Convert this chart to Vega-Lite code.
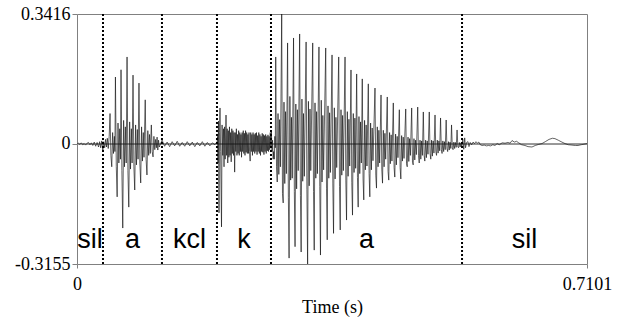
{
  "$schema": "https://vega.github.io/schema/vega-lite/v6.json",
  "width": 510,
  "height": 250,
  "autosize": {"type": "none"},
  "padding": {"left": 77, "top": 14, "right": 35, "bottom": 58},
  "background": "white",
  "config": {
    "view": {"stroke": "#808080", "strokeWidth": 1},
    "axis": {"labelFont": "Liberation Serif", "titleFont": "Liberation Serif", "labelFontSize": 18, "titleFontSize": 18, "labelColor": "#000", "titleColor": "#000", "titleFontWeight": "normal", "domain": false, "grid": false, "tickColor": "#808080", "labelFlush": false, "labelOverlap": false}
  },
  "datasets": {
    "wave": [
      {"t":0.0000,"v":0.000},{"t":0.0020,"v":0.002},{"t":0.0040,"v":-0.001},{"t":0.0060,"v":0.003},{"t":0.0080,"v":-0.002},{"t":0.0100,"v":0.001},{"t":0.0120,"v":-0.003},{"t":0.0140,"v":0.002},{"t":0.0160,"v":0.004},{"t":0.0180,"v":-0.002},{"t":0.0200,"v":0.003},{"t":0.0220,"v":-0.004},{"t":0.0240,"v":0.005},{"t":0.0260,"v":-0.006},{"t":0.0280,"v":0.004},{"t":0.0300,"v":-0.008},{"t":0.0315,"v":0.006},{"t":0.0330,"v":-0.010},{"t":0.0345,"v":0.008},{"t":0.0360,"v":-0.018},{"t":0.0372,"v":0.006},{"t":0.0385,"v":-0.010},{"t":0.0398,"v":0.012},{"t":0.0410,"v":-0.008},{"t":0.0422,"v":0.015},{"t":0.0435,"v":-0.012},{"t":0.0448,"v":0.020},
      {"t":0.0460,"v":0.080},{"t":0.0472,"v":-0.030},{"t":0.0484,"v":-0.060},{"t":0.0496,"v":0.030},{"t":0.0508,"v":-0.025},{"t":0.0520,"v":0.020},{"t":0.0528,"v":-0.020},
      {"t":0.0535,"v":0.176},{"t":0.0547,"v":-0.060},{"t":0.0559,"v":-0.139},{"t":0.0571,"v":0.055},{"t":0.0583,"v":-0.050},{"t":0.0595,"v":0.040},{"t":0.0605,"v":-0.040},
      {"t":0.0613,"v":0.195},{"t":0.0625,"v":-0.070},{"t":0.0637,"v":-0.221},{"t":0.0649,"v":0.062},{"t":0.0661,"v":-0.060},{"t":0.0673,"v":0.045},{"t":0.0685,"v":-0.050},
      {"t":0.0697,"v":0.2287},{"t":0.0709,"v":-0.070},{"t":0.0721,"v":-0.166},{"t":0.0733,"v":0.058},{"t":0.0745,"v":-0.066},{"t":0.0757,"v":0.040},{"t":0.0767,"v":-0.050},
      {"t":0.0780,"v":0.181},{"t":0.0792,"v":-0.060},{"t":0.0804,"v":-0.121},{"t":0.0816,"v":0.050},{"t":0.0828,"v":-0.055},{"t":0.0840,"v":0.038},{"t":0.0850,"v":-0.040},
      {"t":0.0863,"v":0.160},{"t":0.0875,"v":-0.050},{"t":0.0887,"v":-0.1025},{"t":0.0899,"v":0.045},{"t":0.0911,"v":-0.045},{"t":0.0923,"v":0.030},{"t":0.0933,"v":-0.035},
      {"t":0.0950,"v":0.116},{"t":0.0962,"v":-0.040},{"t":0.0974,"v":-0.0815},{"t":0.0986,"v":0.035},{"t":0.0998,"v":-0.030},{"t":0.1010,"v":0.025},{"t":0.1020,"v":-0.025},
      {"t":0.1035,"v":0.050},{"t":0.1047,"v":-0.020},{"t":0.1059,"v":-0.034},{"t":0.1071,"v":0.020},{"t":0.1083,"v":-0.015},{"t":0.1095,"v":0.012},{"t":0.1105,"v":-0.010},
      {"t":0.1115,"v":0.018},{"t":0.1125,"v":-0.016},{"t":0.1135,"v":0.010},{"t":0.1145,"v":-0.008},
      {"t":0.1185,"v":0.010},{"t":0.1220,"v":-0.006},{"t":0.1255,"v":0.005},{"t":0.1290,"v":-0.007},{"t":0.1325,"v":0.006},{"t":0.1360,"v":-0.005},{"t":0.1395,"v":0.007},{"t":0.1430,"v":-0.006},{"t":0.1465,"v":0.004},{"t":0.1500,"v":-0.006},{"t":0.1535,"v":0.006},{"t":0.1570,"v":-0.005},{"t":0.1605,"v":0.005},{"t":0.1640,"v":-0.007},{"t":0.1675,"v":0.004},{"t":0.1710,"v":-0.005},{"t":0.1745,"v":0.006},{"t":0.1780,"v":-0.006},{"t":0.1815,"v":0.004},{"t":0.1850,"v":-0.005},{"t":0.1885,"v":0.003},{"t":0.1920,"v":-0.002},{"t":0.1940,"v":0.003},
      {"t":0.1950,"v":0.003},{"t":0.1958,"v":0.020},{"t":0.1963,"v":-0.050},{"t":0.1970,"v":0.060},{"t":0.1977,"v":-0.181},{"t":0.1984,"v":0.030},{"t":0.1991,"v":0.0946},{"t":0.2000,"v":-0.020},{"t":0.2012,"v":-0.218},{"t":0.2020,"v":0.050},{"t":0.2030,"v":-0.030},{"t":0.2040,"v":0.040},{"t":0.2047,"v":-0.060},{"t":0.2055,"v":0.045},{"t":0.2063,"v":-0.040},{"t":0.2075,"v":0.076},{"t":0.2083,"v":-0.030},{"t":0.2091,"v":0.040},{"t":0.2099,"v":-0.050},{"t":0.2107,"v":0.035},{"t":0.2115,"v":-0.035},{"t":0.2123,"v":0.045},{"t":0.2131,"v":-0.030},{"t":0.2139,"v":0.030},{"t":0.2147,"v":-0.047},{"t":0.2155,"v":0.040},{"t":0.2163,"v":-0.025},{"t":0.2171,"v":0.035},{"t":0.2179,"v":-0.030},{"t":0.2187,"v":0.030},{"t":0.2195,"v":-0.074},{"t":0.2203,"v":0.030},{"t":0.2211,"v":-0.020},{"t":0.2219,"v":0.040},{"t":0.2227,"v":-0.030},{"t":0.2235,"v":0.025},{"t":0.2243,"v":-0.025},{"t":0.2251,"v":0.035},{"t":0.2259,"v":-0.030},{"t":0.2267,"v":0.030},{"t":0.2275,"v":-0.020},{"t":0.2283,"v":0.025},{"t":0.2291,"v":-0.035},{"t":0.2299,"v":0.030},{"t":0.2307,"v":-0.020},{"t":0.2315,"v":0.035},{"t":0.2323,"v":-0.025},{"t":0.2331,"v":0.028},{"t":0.2339,"v":-0.030},{"t":0.2347,"v":0.035},{"t":0.2355,"v":-0.022},{"t":0.2363,"v":0.030},{"t":0.2371,"v":-0.025},{"t":0.2379,"v":0.025},{"t":0.2387,"v":-0.025},{"t":0.2395,"v":0.030},{"t":0.2403,"v":-0.020},{"t":0.2411,"v":-0.045},{"t":0.2419,"v":0.030},{"t":0.2427,"v":-0.020},{"t":0.2435,"v":0.025},{"t":0.2443,"v":-0.030},{"t":0.2451,"v":0.030},{"t":0.2459,"v":-0.020},{"t":0.2467,"v":0.025},{"t":0.2475,"v":-0.025},{"t":0.2483,"v":0.028},{"t":0.2491,"v":-0.020},{"t":0.2499,"v":0.030},{"t":0.2507,"v":-0.028},{"t":0.2515,"v":0.022},{"t":0.2523,"v":-0.020},{"t":0.2531,"v":0.030},{"t":0.2539,"v":-0.025},{"t":0.2547,"v":0.025},{"t":0.2555,"v":-0.030},{"t":0.2563,"v":0.020},{"t":0.2571,"v":-0.020},{"t":0.2579,"v":0.028},{"t":0.2587,"v":-0.022},{"t":0.2595,"v":0.025},{"t":0.2603,"v":-0.028},{"t":0.2611,"v":0.022},{"t":0.2619,"v":-0.020},{"t":0.2627,"v":0.025},{"t":0.2635,"v":-0.025},{"t":0.2643,"v":0.020},{"t":0.2651,"v":-0.018},{"t":0.2659,"v":0.024},{"t":0.2667,"v":-0.020},{"t":0.2675,"v":0.020},{"t":0.2683,"v":-0.015},{"t":0.2691,"v":0.030},{"t":0.2699,"v":-0.010},{"t":0.2707,"v":0.032},{"t":0.2715,"v":-0.020},{"t":0.2723,"v":0.010},{"t":0.2731,"v":-0.040},{"t":0.2739,"v":-0.020},{"t":0.2747,"v":-0.040},{"t":0.2755,"v":0.020},{"t":0.2761,"v":-0.010},
      {"t":0.2767,"v":0.2287},{"t":0.2778,"v":-0.060},{"t":0.2788,"v":-0.100},{"t":0.2799,"v":0.080},{"t":0.2810,"v":-0.080},{"t":0.2821,"v":0.064},{"t":0.2832,"v":-0.060},
      {"t":0.2850,"v":0.3416},{"t":0.2861,"v":-0.130},{"t":0.2871,"v":-0.155},{"t":0.2882,"v":0.110},{"t":0.2893,"v":-0.104},{"t":0.2904,"v":0.085},{"t":0.2915,"v":-0.078},
      {"t":0.2932,"v":0.2655},{"t":0.2943,"v":-0.140},{"t":0.2953,"v":-0.300},{"t":0.2964,"v":0.125},{"t":0.2975,"v":-0.095},{"t":0.2986,"v":0.070},{"t":0.2997,"v":-0.090},
      {"t":0.3015,"v":0.2786},{"t":0.3026,"v":-0.125},{"t":0.3036,"v":-0.270},{"t":0.3047,"v":0.105},{"t":0.3058,"v":-0.118},{"t":0.3069,"v":0.090},{"t":0.3080,"v":-0.070},
      {"t":0.3100,"v":0.2891},{"t":0.3111,"v":-0.135},{"t":0.3121,"v":-0.284},{"t":0.3132,"v":0.118},{"t":0.3143,"v":-0.098},{"t":0.3154,"v":0.080},{"t":0.3165,"v":-0.085},
      {"t":0.3190,"v":0.2681},{"t":0.3201,"v":-0.120},{"t":0.3211,"v":-0.3155},{"t":0.3222,"v":0.112},{"t":0.3233,"v":-0.110},{"t":0.3244,"v":0.092},{"t":0.3255,"v":-0.070},
      {"t":0.3282,"v":0.2655},{"t":0.3293,"v":-0.125},{"t":0.3303,"v":-0.279},{"t":0.3314,"v":0.108},{"t":0.3325,"v":-0.090},{"t":0.3336,"v":0.085},{"t":0.3347,"v":-0.078},
      {"t":0.3369,"v":0.2550},{"t":0.3380,"v":-0.112},{"t":0.3390,"v":-0.292},{"t":0.3401,"v":0.115},{"t":0.3412,"v":-0.100},{"t":0.3423,"v":0.075},{"t":0.3434,"v":-0.068},
      {"t":0.3463,"v":0.2523},{"t":0.3474,"v":-0.118},{"t":0.3484,"v":-0.252},{"t":0.3495,"v":0.100},{"t":0.3506,"v":-0.090},{"t":0.3517,"v":0.082},{"t":0.3528,"v":-0.075},
      {"t":0.3551,"v":0.2340},{"t":0.3562,"v":-0.105},{"t":0.3572,"v":-0.235},{"t":0.3583,"v":0.095},{"t":0.3594,"v":-0.092},{"t":0.3605,"v":0.070},{"t":0.3616,"v":-0.062},
      {"t":0.3644,"v":0.2287},{"t":0.3655,"v":-0.112},{"t":0.3665,"v":-0.226},{"t":0.3676,"v":0.090},{"t":0.3687,"v":-0.082},{"t":0.3698,"v":0.075},{"t":0.3709,"v":-0.070},
      {"t":0.3732,"v":0.2287},{"t":0.3743,"v":-0.095},{"t":0.3753,"v":-0.200},{"t":0.3764,"v":0.085},{"t":0.3775,"v":-0.085},{"t":0.3786,"v":0.065},{"t":0.3797,"v":-0.058},
      {"t":0.3815,"v":0.1945},{"t":0.3826,"v":-0.102},{"t":0.3836,"v":-0.187},{"t":0.3847,"v":0.080},{"t":0.3858,"v":-0.075},{"t":0.3869,"v":0.068},{"t":0.3880,"v":-0.064},
      {"t":0.3894,"v":0.1840},{"t":0.3905,"v":-0.088},{"t":0.3915,"v":-0.166},{"t":0.3926,"v":0.072},{"t":0.3937,"v":-0.078},{"t":0.3948,"v":0.058},{"t":0.3959,"v":-0.050},
      {"t":0.3972,"v":0.1710},{"t":0.3983,"v":-0.092},{"t":0.3993,"v":-0.147},{"t":0.4004,"v":0.062},{"t":0.4015,"v":-0.068},{"t":0.4026,"v":0.050},{"t":0.4037,"v":-0.058},
      {"t":0.4056,"v":0.1580},{"t":0.4067,"v":-0.078},{"t":0.4077,"v":-0.139},{"t":0.4088,"v":0.055},{"t":0.4099,"v":-0.068},{"t":0.4110,"v":0.042},{"t":0.4121,"v":-0.044},
      {"t":0.4149,"v":0.1470},{"t":0.4160,"v":-0.082},{"t":0.4170,"v":-0.116},{"t":0.4181,"v":0.045},{"t":0.4192,"v":-0.060},{"t":0.4203,"v":0.036},{"t":0.4214,"v":-0.050},
      {"t":0.4233,"v":0.1288},{"t":0.4244,"v":-0.068},{"t":0.4254,"v":-0.103},{"t":0.4265,"v":0.036},{"t":0.4276,"v":-0.060},{"t":0.4287,"v":0.028},{"t":0.4298,"v":-0.040},
      {"t":0.4320,"v":0.1235},{"t":0.4331,"v":-0.072},{"t":0.4341,"v":-0.095},{"t":0.4352,"v":0.030},{"t":0.4363,"v":-0.052},{"t":0.4374,"v":0.024},{"t":0.4385,"v":-0.045},
      {"t":0.4404,"v":0.1078},{"t":0.4415,"v":-0.062},{"t":0.4425,"v":-0.087},{"t":0.4436,"v":0.026},{"t":0.4447,"v":-0.055},{"t":0.4458,"v":0.020},{"t":0.4469,"v":-0.036},
      {"t":0.4488,"v":0.0900},{"t":0.4499,"v":-0.062},{"t":0.4509,"v":-0.092},{"t":0.4520,"v":0.022},{"t":0.4531,"v":-0.045},{"t":0.4542,"v":0.018},{"t":0.4553,"v":-0.038},
      {"t":0.4577,"v":0.0920},{"t":0.4588,"v":-0.052},{"t":0.4598,"v":-0.060},{"t":0.4609,"v":0.018},{"t":0.4620,"v":-0.046},{"t":0.4631,"v":0.014},{"t":0.4642,"v":-0.030},
      {"t":0.4660,"v":0.0946},{"t":0.4671,"v":-0.048},{"t":0.4681,"v":-0.055},{"t":0.4692,"v":0.014},{"t":0.4703,"v":-0.042},{"t":0.4714,"v":0.010},{"t":0.4725,"v":-0.028},
      {"t":0.4744,"v":0.0970},{"t":0.4755,"v":-0.030},{"t":0.4765,"v":-0.050},{"t":0.4776,"v":0.010},{"t":0.4787,"v":-0.040},{"t":0.4798,"v":0.008},{"t":0.4809,"v":-0.030},
      {"t":0.4822,"v":0.0841},{"t":0.4833,"v":-0.030},{"t":0.4843,"v":-0.045},{"t":0.4854,"v":0.010},{"t":0.4865,"v":-0.036},{"t":0.4876,"v":0.008},{"t":0.4887,"v":-0.027},
      {"t":0.4905,"v":0.0841},{"t":0.4916,"v":-0.025},{"t":0.4926,"v":-0.040},{"t":0.4937,"v":0.010},{"t":0.4948,"v":-0.032},{"t":0.4959,"v":0.008},{"t":0.4970,"v":-0.024},
      {"t":0.4985,"v":0.0762},{"t":0.4996,"v":-0.020},{"t":0.5006,"v":-0.030},{"t":0.5017,"v":0.010},{"t":0.5028,"v":-0.024},{"t":0.5039,"v":0.008},{"t":0.5050,"v":-0.018},
      {"t":0.5062,"v":0.0683},{"t":0.5073,"v":-0.015},{"t":0.5083,"v":-0.025},{"t":0.5094,"v":0.008},{"t":0.5105,"v":-0.020},{"t":0.5116,"v":0.006},{"t":0.5127,"v":-0.015},
      {"t":0.5140,"v":0.0630},{"t":0.5151,"v":-0.012},{"t":0.5161,"v":-0.020},{"t":0.5172,"v":0.006},{"t":0.5183,"v":-0.016},{"t":0.5194,"v":0.005},{"t":0.5205,"v":-0.012},
      {"t":0.5215,"v":0.0500},{"t":0.5226,"v":-0.010},{"t":0.5236,"v":-0.015},{"t":0.5247,"v":0.005},{"t":0.5258,"v":-0.012},{"t":0.5269,"v":0.004},{"t":0.5280,"v":-0.009},
      {"t":0.5292,"v":0.0368},{"t":0.5303,"v":-0.008},{"t":0.5313,"v":-0.010},{"t":0.5324,"v":0.004},{"t":0.5335,"v":-0.008},{"t":0.5346,"v":0.003},{"t":0.5357,"v":-0.006},
      {"t":0.5372,"v":0.012},{"t":0.5385,"v":-0.014},{"t":0.5398,"v":0.016},{"t":0.5410,"v":-0.010},{"t":0.5425,"v":0.004},{"t":0.5444,"v":0.006},{"t":0.5458,"v":-0.007},{"t":0.5475,"v":0.004},{"t":0.5495,"v":-0.002},{"t":0.5515,"v":0.005},{"t":0.5535,"v":0.001},{"t":0.5555,"v":0.006},{"t":0.5575,"v":0.002},{"t":0.5595,"v":0.005},{"t":0.5615,"v":-0.002},{"t":0.5640,"v":-0.004},{"t":0.5670,"v":-0.003},{"t":0.5700,"v":-0.005},{"t":0.5730,"v":-0.004},{"t":0.5760,"v":-0.005},{"t":0.5790,"v":-0.002},{"t":0.5820,"v":-0.004},{"t":0.5850,"v":0.001},{"t":0.5880,"v":-0.002},{"t":0.5920,"v":0.003},{"t":0.5960,"v":0.002},{"t":0.6000,"v":0.004},{"t":0.6030,"v":0.002},{"t":0.6057,"v":0.009},{"t":0.6090,"v":0.005},{"t":0.6120,"v":0.007},{"t":0.6150,"v":0.003},{"t":0.6190,"v":-0.002},{"t":0.6238,"v":-0.004},{"t":0.6280,"v":-0.007},{"t":0.6335,"v":-0.008},{"t":0.6380,"v":-0.004},{"t":0.6430,"v":-0.001},{"t":0.6474,"v":0.001},{"t":0.6520,"v":0.006},{"t":0.6572,"v":0.012},{"t":0.6620,"v":0.015},{"t":0.6655,"v":0.014},{"t":0.6700,"v":0.010},{"t":0.6740,"v":0.006},{"t":0.6795,"v":0.001},{"t":0.6840,"v":-0.002},{"t":0.6892,"v":-0.003},{"t":0.6940,"v":-0.004},{"t":0.6976,"v":-0.004},{"t":0.7020,"v":-0.002},{"t":0.7073,"v":0.000},{"t":0.7101,"v":0.001}
    ],
    "bounds": [{"t":0.0362},{"t":0.1183},{"t":0.1949},{"t":0.2701},{"t":0.5361}],
    "labels": [
      {"t":0.0181,"label":"sil"},{"t":0.0773,"label":"a"},{"t":0.1566,"label":"kcl"},{"t":0.2325,"label":"k"},{"t":0.4031,"label":"a"},{"t":0.6231,"label":"sil"}
    ]
  },
  "layer": [
    {
      "data": {"name": "wave"},
      "mark": {"type": "rule", "stroke": "#999999", "strokeWidth": 0.7},
      "encoding": {"y": {"datum": 0, "type": "quantitative"}}
    },
    {
      "data": {"name": "wave"},
      "mark": {"type": "line", "stroke": "#111111", "strokeWidth": 0.65, "interpolate": "linear"},
      "encoding": {
        "x": {"field": "t", "type": "quantitative", "scale": {"domain": [0, 0.7101], "nice": false, "zero": false},
              "axis": {"values": [0, 0.7101], "labelExpr": "'' + datum.value", "title": "Time (s)", "tickSize": 4, "labelPadding": 7, "titlePadding": 5}},
        "y": {"field": "v", "type": "quantitative", "scale": {"domain": [-0.3155, 0.3416], "nice": false, "zero": false},
              "axis": {"values": [-0.3155, 0, 0.3416], "labelExpr": "'' + datum.value", "title": null, "tickSize": 5, "labelPadding": 2}}
      }
    },
    {
      "data": {"name": "bounds"},
      "mark": {"type": "rule", "stroke": "#000000", "strokeWidth": 2, "strokeDash": [2, 2]},
      "encoding": {"x": {"field": "t", "type": "quantitative"}}
    },
    {
      "data": {"name": "labels"},
      "mark": {"type": "text", "font": "Liberation Sans", "fontSize": 27, "color": "#000000", "baseline": "alphabetic", "align": "center"},
      "encoding": {
        "x": {"field": "t", "type": "quantitative"},
        "y": {"datum": -0.2735, "type": "quantitative"},
        "text": {"field": "label"}
      }
    }
  ]
}
